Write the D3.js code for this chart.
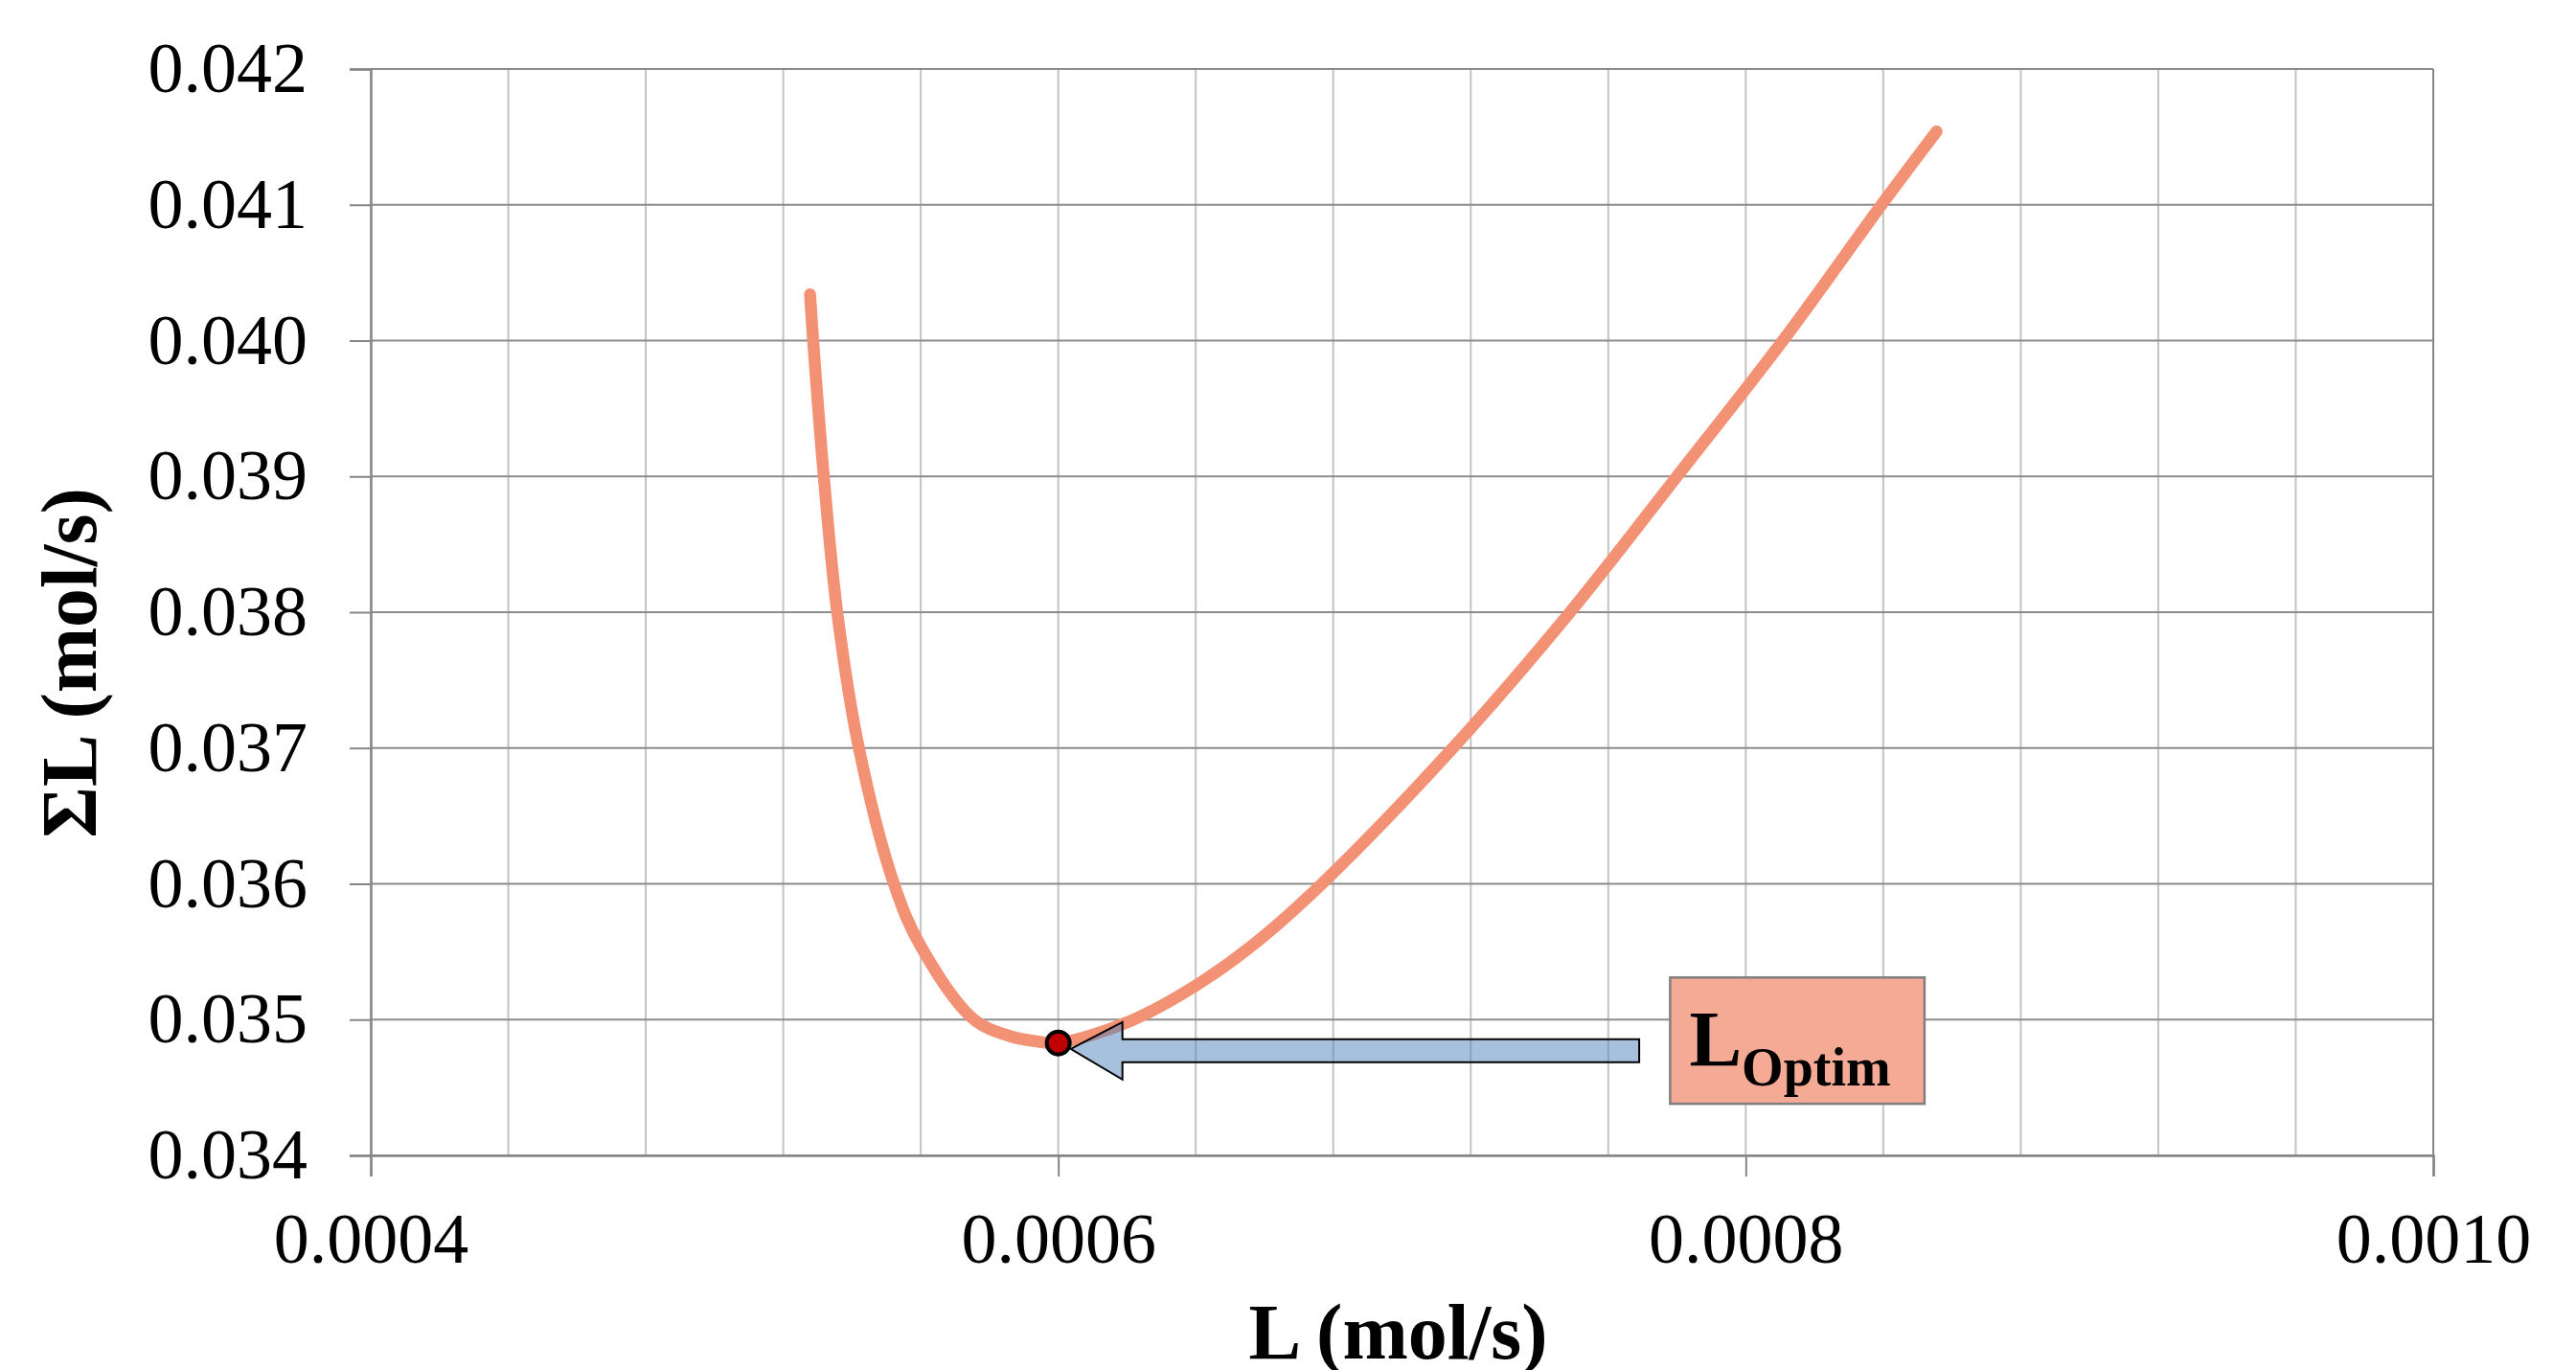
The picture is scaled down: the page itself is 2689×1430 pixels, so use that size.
<!DOCTYPE html>
<html>
<head>
<meta charset="utf-8">
<script src="https://cdn.jsdelivr.net/npm/d3@7"></script>
<style>
  body { margin: 0; background: #fff; }
  svg { display: block; }
  text { font-family: "Liberation Serif", "Times New Roman", serif; fill: #000; }
</style>
</head>
<body>
<svg id="chart" width="2689" height="1430"></svg>
<script>
"use strict";

// curve points: L (mol/s) vs sum L (mol/s)
const flowL = [0.0005278, 0.0005287, 0.0005318, 0.0005357, 0.000542, 0.0005522,
  0.00056, 0.0005755, 0.0005857, 0.000593, 0.0006, 0.000621, 0.00064,
  0.0006581, 0.0006767, 0.0007148, 0.0007489, 0.00078, 0.0008108, 0.0008395, 0.0008555];
const sumL = [0.04034, 0.04000, 0.03900, 0.03800, 0.03700, 0.03600,
  0.03554, 0.03500, 0.03488, 0.034842, 0.034828, 0.03499, 0.03525,
  0.03558, 0.03600, 0.03700, 0.03800, 0.03900, 0.04000, 0.04100, 0.04154];

// optimum point
const optimum = { L: 0.0006, sum: 0.034828, label: "L", sub: "Optim" };

// axes
const xTicks = [0.0004, 0.0006, 0.0008, 0.0010];
const xTickLabels = ["0.0004", "0.0006", "0.0008", "0.0010"];
const xGrid = [0.0004, 0.00044, 0.00048, 0.00052, 0.00056, 0.0006, 0.00064, 0.00068,
  0.00072, 0.00076, 0.0008, 0.00084, 0.00088, 0.00092, 0.00096, 0.0010];
const yTicks = [0.034, 0.035, 0.036, 0.037, 0.038, 0.039, 0.040, 0.041, 0.042];
const yTickLabels = ["0.034", "0.035", "0.036", "0.037", "0.038", "0.039", "0.040", "0.041", "0.042"];
const xTitle = "L (mol/s)";
const yTitle = "ΣL (mol/s)";

// annotation placement (data units)
const arrowTailL = 0.000769;
const arrowSum = 0.03477;
const boxL = [0.000778, 0.000852];
const boxSum = [0.03531, 0.03438];

const margin = { left: 387, right: 149, top: 72, bottom: 224 };
const width = 2689, height = 1430;

const svg = d3.select("#chart");

const x = d3.scaleLinear()
  .domain([0.0004, 0.0010])
  .range([margin.left, width - margin.right]);
const y = d3.scaleLinear()
  .domain([0.034, 0.042])
  .range([height - margin.bottom, margin.top]);

// gridlines
let grid = svg.append("g");
grid.selectAll("line.vgrid")
  .data(xGrid)
  .enter()
  .append("line")
  .attr("x1", d => x(d)).attr("x2", d => x(d))
  .attr("y1", y(0.042)).attr("y2", y(0.034))
  .attr("stroke", (d, i) => i == xGrid.length - 1 ? "#868686" : "#c3c3c3")
  .attr("stroke-width", 2);
grid.selectAll("line.hgrid")
  .data(yTicks)
  .enter()
  .append("line")
  .attr("x1", x(0.0004)).attr("x2", x(0.0010))
  .attr("y1", d => y(d)).attr("y2", d => y(d))
  .attr("stroke", "#8c8c8c")
  .attr("stroke-width", 2);

// axes
let xAxis = svg.append("g")
  .attr("transform", `translate(0,${y(0.034)})`)
  .call(d3.axisBottom(x)
    .tickValues(xTicks)
    .tickFormat((d, i) => xTickLabels[i])
    .tickSize(22)
    .tickPadding(37));
let yAxis = svg.append("g")
  .attr("transform", `translate(${x(0.0004)},0)`)
  .call(d3.axisLeft(y)
    .tickValues(yTicks)
    .tickFormat((d, i) => yTickLabels[i])
    .tickSize(22)
    .tickPadding(44));

[xAxis, yAxis].forEach(a => {
  a.select(".domain").attr("stroke", "#868686").attr("stroke-width", 2.5);
  a.selectAll(".tick line").attr("stroke", "#868686").attr("stroke-width", 2);
  a.selectAll(".tick text")
    .attr("font-size", 74)
    .attr("font-family", "'Liberation Serif', 'Times New Roman', serif")
    .attr("fill", "#000");
});

// curve
const points = flowL.map((d, i) => [d, sumL[i]]);
const line = d3.line()
  .x(d => x(d[0]))
  .y(d => y(d[1]))
  .curve(d3.curveCatmullRom.alpha(0.5));
svg.append("path")
  .datum(points)
  .attr("d", line)
  .attr("fill", "none")
  .attr("stroke", "#f29173")
  .attr("stroke-width", 12.5)
  .attr("stroke-linecap", "round")
  .attr("stroke-linejoin", "round");

// arrow pointing at the optimum
const dotR = 12;
const tipX = x(optimum.L) + dotR + 1;
const tailX = x(arrowTailL);
const ay = y(arrowSum);
const headLen = 54, headHalf = 30, shaftHalf = 12;
const arrowPts = [
  [tipX, ay - 2],
  [tipX + headLen, ay - headHalf],
  [tipX + headLen, ay - shaftHalf],
  [tailX, ay - shaftHalf],
  [tailX, ay + shaftHalf],
  [tipX + headLen, ay + shaftHalf],
  [tipX + headLen, ay + headHalf]
];

svg.append("circle")
  .attr("cx", x(optimum.L))
  .attr("cy", y(optimum.sum))
  .attr("r", dotR)
  .attr("fill", "#c00000")
  .attr("stroke", "#000")
  .attr("stroke-width", 4);

svg.append("polygon")
  .attr("points", arrowPts.map(p => p.join(",")).join(" "))
  .attr("fill", "rgba(79,129,189,0.5)")
  .attr("stroke", "#000")
  .attr("stroke-width", 2)
  .attr("stroke-linejoin", "miter");

// label box
svg.append("rect")
  .attr("x", x(boxL[0]))
  .attr("y", y(boxSum[0]))
  .attr("width", x(boxL[1]) - x(boxL[0]))
  .attr("height", y(boxSum[1]) - y(boxSum[0]))
  .attr("fill", "#f4aa94")
  .attr("stroke", "#7f7f7f")
  .attr("stroke-width", 2.5);

let lbl = svg.append("text")
  .attr("x", x(boxL[0]) + 20)
  .attr("y", y(boxSum[0]) + 92)
  .attr("font-size", 82)
  .attr("font-weight", "bold");
lbl.append("tspan").text(optimum.label);
lbl.append("tspan")
  .attr("font-size", 56)
  .attr("dy", 21)
  .text(optimum.sub);

// axis titles
svg.append("text")
  .attr("x", (x(0.0004) + x(0.0010)) / 2 - 4)
  .attr("y", 1418)
  .attr("text-anchor", "middle")
  .attr("font-size", 82)
  .attr("font-weight", "bold")
  .text(xTitle);

svg.append("text")
  .attr("transform", "translate(100,692) rotate(-90)")
  .attr("text-anchor", "middle")
  .attr("font-size", 82)
  .attr("font-weight", "bold")
  .text(yTitle);
</script>
</body>
</html>
